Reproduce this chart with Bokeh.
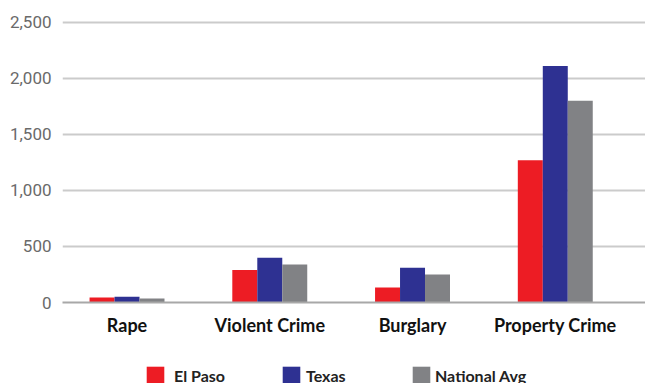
from bokeh.plotting import figure
from bokeh.layouts import column
from bokeh.models import ColumnDataSource, Range1d, FixedTicker, NumeralTickFormatter, Legend, LegendItem
from bokeh.transform import dodge
from bokeh.embed import file_html
from bokeh.resources import INLINE

categories = ["Rape", "Violent Crime", "Burglary", "Property Crime"]
el_paso = [45, 290, 134, 1270]
texas = [51, 400, 310, 2110]
national = [36, 340, 250, 1800]
y_ticks = [0, 500, 1000, 1500, 2000, 2500]
series_names = ["El Paso", "Texas", "National Avg"]
colors = ["#ED1C24", "#2E3192", "#818285"]

idx = list(range(len(categories)))
src = ColumnDataSource(dict(x=idx, el_paso=el_paso, texas=texas, national=national))

p = figure(width=645, height=345, output_backend="svg", toolbar_location=None,
           x_range=Range1d(-0.452, 3.632), y_range=Range1d(0, 2587),
           min_border_left=62, min_border_right=0, min_border_top=12, min_border_bottom=43)
p.outline_line_color = None

bw = 0.175
for field, off, col in zip(["el_paso", "texas", "national"], [-bw, 0, bw], colors):
    p.vbar(x=dodge("x", off, range=p.x_range), top=field, width=bw,
           source=src, color=col, line_color=None)

p.xaxis.ticker = FixedTicker(ticks=idx)
p.xaxis.major_label_overrides = {i: c for i, c in zip(idx, categories)}
p.xaxis.major_tick_line_color = None
p.xaxis.minor_tick_line_color = None
p.xaxis.axis_line_color = "#a8a8a8"
p.xaxis.axis_line_width = 2
p.xaxis.major_label_text_font = "Lato"
p.xaxis.major_label_text_font_style = "bold"
p.xaxis.major_label_text_font_size = "18px"
p.xaxis.major_label_text_color = "#111111"
p.xaxis.major_label_standoff = 5
p.xgrid.grid_line_color = None

p.yaxis.ticker = FixedTicker(ticks=y_ticks)
p.yaxis.formatter = NumeralTickFormatter(format="0,0")
p.yaxis.axis_line_color = None
p.yaxis.major_tick_line_color = None
p.yaxis.minor_tick_line_color = None
p.yaxis.major_label_text_font = "Roboto"
p.yaxis.major_label_text_font_size = "17px"
p.yaxis.major_label_text_color = "#6a6a6a"
p.yaxis.major_label_standoff = 5
p.ygrid.grid_line_color = "#cbcbcb"
p.ygrid.grid_line_width = 2

# legend strip (swatches drawn from a key source placed outside the strip's visible range)
lg = figure(width=645, height=38, output_backend="svg", toolbar_location=None,
            x_range=Range1d(0, 1), y_range=Range1d(0, 1),
            x_axis_location=None, y_axis_location=None,
            min_border_left=0, min_border_right=0, min_border_top=0, min_border_bottom=0)
lg.grid.visible = False
lg.outline_line_color = None
key_src = ColumnDataSource(dict(x=[10], top=[10]))
leg_x = [82, 218, 348]
leg_standoff = [8, 4, 3]
for name, col, lx, so in zip(series_names, colors, leg_x, leg_standoff):
    r = lg.vbar(x="x", top="top", width=0.1, source=key_src, color=col, line_color=None)
    leg = Legend(items=[LegendItem(label=name, renderers=[r])],
                 location=(lx, -3), padding=0, margin=0, label_standoff=so,
                 glyph_width=22, glyph_height=22, label_height=20,
                 label_text_font="Lato", label_text_font_size="16px",
                 label_text_color="#222222", label_text_font_style="bold",
                 border_line_color=None, background_fill_alpha=0)
    lg.add_layout(leg, "center")

layout = column(p, lg, spacing=0)
open("out.html", "w").write(file_html(layout, INLINE))
